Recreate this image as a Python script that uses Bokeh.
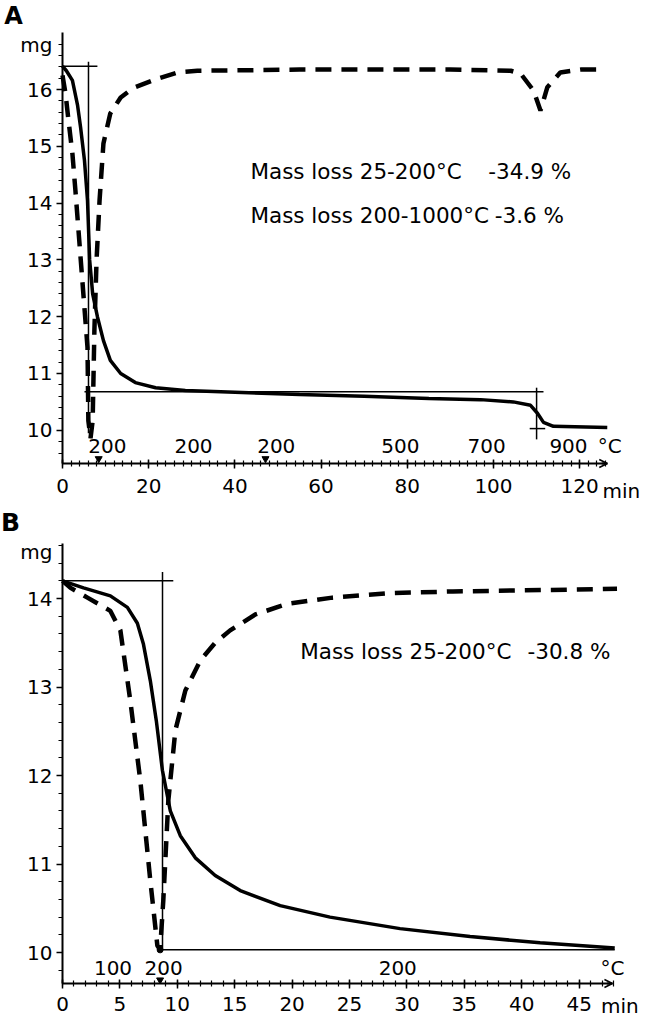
import numpy as np
from bokeh.plotting import figure
from bokeh.layouts import column
from bokeh.models import (FixedTicker, Label, LabelSet, ColumnDataSource, Range1d,
                          Arrow, OpenHead)
from bokeh.core.properties import value
from bokeh.embed import file_html
from bokeh.resources import INLINE

FONT = "DejaVu Sans"

# ---------------- Panel A data ----------------
a_tg_t = [0, 0.9, 2.3, 3.5, 4.2, 5.1, 5.8, 6.3, 7.0, 8.1, 9.5, 11.1, 13.5, 16.9, 21.6,
          28.5, 40, 55, 70, 85, 97, 104.6, 108.6, 110.2, 111.6, 113.9, 126.4]
a_tg_mg = [16.41, 16.33, 16.16, 15.72, 15.33, 14.75, 14.05, 13.0, 12.4, 12.0, 11.58, 11.23,
           11.0, 10.84, 10.75, 10.70, 10.67, 10.63, 10.60, 10.56, 10.54, 10.50, 10.44,
           10.30, 10.14, 10.07, 10.05]
a_dtg_t = [0, 0.7, 1.4, 2.3, 3.0, 4.6, 5.8, 6.0, 6.5, 7.0, 7.4, 7.9, 8.6, 9.5, 11.1, 13.5,
           16.5, 22.0, 26.7, 31.3, 55, 90, 104, 106.3, 109.3, 110.9, 112.5, 115.5, 120.2, 126]
a_dtg_mg = [16.25, 15.93, 15.45, 14.87, 14.22, 12.64, 11.46, 10.17, 9.86, 10.17, 11.76,
            12.99, 14.05, 15.05, 15.58, 15.86, 16.03, 16.19, 16.30, 16.33, 16.35, 16.35,
            16.33, 16.28, 15.98, 15.63, 16.04, 16.30, 16.35, 16.35]
a_temp_labels = ["200", "200", "200", "500", "700", "900", "°C"]
a_temp_t = [10.4, 30.4, 49.6, 78.4, 98.4, 117.4, 127.0]
a_loss_text = ["Mass loss 25-200°C", "Mass loss 200-1000°C"]
a_loss_pct = ["-34.9 %", "-3.6 %"]
a_yticks = [10, 11, 12, 13, 14, 15, 16]
a_xticks = [0, 20, 40, 60, 80, 100, 120]

# ---------------- Panel B data ----------------
b_tg_t = [0, 1.83, 4.17, 5.65, 6.52, 7.04, 7.65, 8.17, 8.7, 9.39, 10.26, 11.57, 13.3,
          15.48, 18.96, 23.3, 29.4, 35.5, 41.6, 48.1]
b_tg_mg = [14.2, 14.12, 14.03, 13.9, 13.72, 13.49, 13.07, 12.62, 12.06, 11.6, 11.32, 11.07,
           10.87, 10.70, 10.53, 10.40, 10.27, 10.18, 10.11, 10.05]
b_dtg_t = [0, 0.7, 2.17, 4.17, 5.04, 5.9, 6.78, 7.65, 8.26, 8.5, 8.78, 9.22, 9.83, 10.7,
           12.0, 13.3, 14.6, 16.8, 19.6, 23.5, 28.5, 34.0, 39.2, 48.3]
b_dtg_mg = [14.2, 14.12, 14.01, 13.86, 13.64, 12.85, 11.94, 10.81, 10.08, 10.03, 10.59,
            11.72, 12.51, 12.96, 13.30, 13.50, 13.64, 13.82, 13.94, 14.01, 14.06, 14.08,
            14.09, 14.11]
b_temp_labels = ["100", "200", "200", "°C"]
b_temp_t = [4.4, 8.8, 29.2, 47.9]
b_loss_text = ["Mass loss 25-200°C"]
b_loss_pct = ["-30.8 %"]
b_yticks = [10, 11, 12, 13, 14]
b_xticks = [0, 5, 10, 15, 20, 25, 30, 35, 40, 45]


def style(p, xticks, xminor, yticks, yminor, xb, yb, x_standoff):
    p.grid.visible = False
    p.outline_line_color = None
    p.background_fill_color = "white"
    p.border_fill_color = "white"
    xa, ya = p.xaxis[0], p.yaxis[0]
    for ax in (xa, ya):
        ax.axis_line_width = 2
        ax.axis_line_color = "black"
        ax.major_tick_line_width = 1.5
        ax.minor_tick_line_width = 1.2
        ax.major_tick_line_color = "black"
        ax.minor_tick_line_color = "black"
        ax.major_label_text_font = FONT
        ax.major_label_text_font_size = "20px"
        ax.major_label_text_color = "black"
    xa.ticker = FixedTicker(ticks=xticks, minor_ticks=xminor)
    ya.ticker = FixedTicker(ticks=yticks, minor_ticks=yminor)
    xa.bounds = xb
    ya.bounds = yb
    xa.fixed_location = yb[0]
    ya.fixed_location = xb[0]
    xa.major_tick_in = 4
    xa.major_tick_out = 5
    xa.minor_tick_in = 3
    xa.minor_tick_out = 3
    xa.major_label_standoff = x_standoff
    ya.major_tick_in = 0
    ya.major_tick_out = 6
    ya.minor_tick_in = 0
    ya.minor_tick_out = 4
    ya.major_label_standoff = 4
    p.add_layout(Arrow(end=OpenHead(size=8, line_width=1.5, line_color="black"),
                       x_start=xb[1] - 0.01 * (xb[1] - xb[0]), x_end=xb[1],
                       y_start=yb[0], y_end=yb[0], line_width=2, line_color="black"))


def text_label(p, x, y, t, size="20px", align="left", bold=False):
    p.add_layout(Label(x=x, y=y, text=t, text_font=FONT, text_font_size=size,
                       text_align=align, text_baseline="middle", text_color="black",
                       text_font_style="bold" if bold else "normal"))


# ---------------- Figure A ----------------
pA = figure(width=645, height=505, output_backend="svg", toolbar_location=None,
            x_range=Range1d(-14.385, 135.27), y_range=Range1d(8.676, 17.567),
            min_border=0)
style(pA, a_xticks, list(np.arange(0, 127, 2)), a_yticks,
      [round(v, 1) for v in np.arange(9.6, 17.0, 0.2)], (0, 126.4), (9.415, 17.0), 10)

pA.line(a_dtg_t, a_dtg_mg, line_color="black", line_width=4.5, line_dash="16 10")
pA.line(a_tg_t, a_tg_mg, line_color="black", line_width=3.5)
# construction lines
pA.line([0, 8.1], [16.41, 16.41], line_color="black", line_width=1.5)
pA.line([6.03, 6.03], [16.49, 9.95], line_color="black", line_width=1.5)
pA.line([5.1, 111.6], [10.68, 10.68], line_color="black", line_width=1.5)
pA.line([110.0, 110.0], [10.75, 9.84], line_color="black", line_width=1.5)
pA.line([108.4, 112.0], [10.03, 10.03], line_color="black", line_width=1.5)
pA.scatter([8.4, 47.1], [9.5, 9.5], marker="inverted_triangle", size=7, color="black")

srcA = ColumnDataSource(dict(x=a_temp_t, y=[9.73] * len(a_temp_t), text=a_temp_labels))
pA.add_layout(LabelSet(x="x", y="y", text="text", source=srcA, text_font=value(FONT),
                       text_font_size=value("20px"), text_align="center",
                       text_baseline="middle", text_color="black"))
pA.text([43.6, 43.6], [14.556, 13.78], text=a_loss_text, text_font=value(FONT),
        text_font_size="21.5px", text_baseline="middle", text_color="black")
pA.text([98.8, 100.3], [14.556, 13.78], text=a_loss_pct, text_font=value(FONT),
        text_font_size="21.5px", text_baseline="middle", text_color="black")
text_label(pA, -2.32, 16.78, "mg", align="right")
text_label(pA, 125.3, 8.94, "min")
text_label(pA, -11.37, 17.30, "A", size="24px", align="center", bold=True)

# ---------------- Figure B ----------------
pB = figure(width=645, height=515, output_backend="svg", toolbar_location=None,
            x_range=Range1d(-5.401, 50.78), y_range=Range1d(9.232, 15.051),
            min_border=0)
style(pB, b_xticks, list(np.arange(0, 48.5, 1)), b_yticks,
      [round(v, 1) for v in np.arange(9.8, 14.7, 0.2)], (0, 47.9), (9.65, 14.62), 8)

pB.line(b_dtg_t, b_dtg_mg, line_color="black", line_width=4.5, line_dash="16 10")
pB.line(b_tg_t, b_tg_mg, line_color="black", line_width=3.5)
pB.line([0, 9.65], [14.2, 14.2], line_color="black", line_width=1.5)
pB.line([8.71, 8.71], [14.3, 10.03], line_color="black", line_width=1.5)
pB.line([8.5, 48.1], [10.03, 10.03], line_color="black", line_width=1.5)
pB.scatter([8.5], [10.03], size=6, color="black")
pB.scatter([8.5], [9.69], marker="inverted_triangle", size=7, color="black")

srcB = ColumnDataSource(dict(x=b_temp_t, y=[9.83] * len(b_temp_t), text=b_temp_labels))
pB.add_layout(LabelSet(x="x", y="y", text="text", source=srcB, text_font=value(FONT),
                       text_font_size=value("20px"), text_align="center",
                       text_baseline="middle", text_color="black"))
pB.text([20.7], [13.40], text=b_loss_text, text_font=value(FONT),
        text_font_size="21.5px", text_baseline="middle", text_color="black")
pB.text([40.5], [13.40], text=b_loss_pct, text_font=value(FONT),
        text_font_size="21.5px", text_baseline="middle", text_color="black")
text_label(pB, -0.87, 14.53, "mg", align="right")
text_label(pB, 46.9, 9.4, "min")
text_label(pB, -4.53, 14.86, "B", size="25px", align="center", bold=True)

layout = column(pA, pB, spacing=0)
open("out.html", "w").write(file_html(layout, INLINE))
